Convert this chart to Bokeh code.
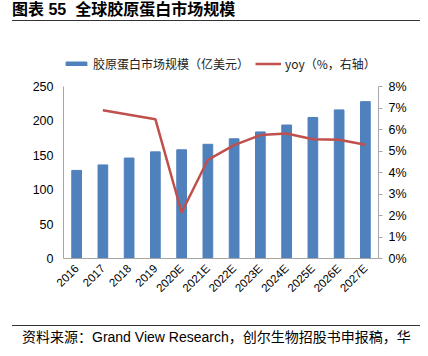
from bokeh.plotting import figure
from bokeh.models import (FactorRange, Range1d, LinearAxis, FixedTicker, NumeralTickFormatter,
                          Legend, LegendItem, ColumnDataSource, Div)
from bokeh.layouts import column
from bokeh.embed import file_html
from bokeh.resources import INLINE
import math

years = ["2016", "2017", "2018", "2019", "2020E", "2021E", "2022E", "2023E",
         "2024E", "2025E", "2026E", "2027E"]
market = [128, 136, 146, 155, 158, 166, 174, 184, 194, 205, 216, 228]
yoy_years = ["2017", "2018", "2019", "2020E", "2021E", "2022E", "2023E",
             "2024E", "2025E", "2026E", "2027E"]
yoy = [0.069, 0.0669, 0.0648, 0.0214, 0.0459, 0.0527, 0.0574, 0.0581, 0.0555, 0.0552, 0.0529]
left_ticks = [0, 50, 100, 150, 200, 250]
right_ticks = [0, 0.01, 0.02, 0.03, 0.04, 0.05, 0.06, 0.07, 0.08]
left_max, right_max = 250, 0.08

title_text = "图表 55&nbsp;&nbsp;全球胶原蛋白市场规模"
bar_name = "胶原蛋白市场规模（亿美元）"
line_name = "yoy（%，右轴）"
source_text = "资料来源：Grand View Research，创尔生物招股书申报稿，华"

W = 420
FIG_H = 296
FL, FR, FT, FB = 63, 378, 30, 236  # frame edges inside the figure
AXIS_TOP = 64                       # where the axes end (local px)
scale = (FB - FT) / (FB - AXIS_TOP)

title_div = Div(
    text=('<div style="margin-left:12px;width:408px;height:21px;border-bottom:1px solid #333;'
          'font-family:\'Liberation Sans\',\'Noto Sans CJK SC\';font-weight:bold;'
          'font-size:16px;line-height:20px;color:#000;white-space:nowrap;">'
          + title_text + '</div>'),
    width=W, height=22, margin=0)

p = figure(width=W, height=FIG_H, x_range=FactorRange(factors=years, range_padding=0),
           y_range=Range1d(0, left_max * scale), output_backend="svg", toolbar_location=None,
           min_border_left=FL, min_border_right=W - FR, min_border_top=FT,
           min_border_bottom=FIG_H - FB, margin=0)
p.extra_y_ranges = {"pct": Range1d(0, right_max * scale)}
p.outline_line_color = None
p.xgrid.visible = False
p.ygrid.visible = False
p.background_fill_color = "white"
p.border_fill_color = "white"

src = ColumnDataSource(dict(x=years, y=market))
bars = p.vbar(x="x", top="y", width=0.37, source=src, fill_color="#4f81bd",
              line_color="#4f81bd")
lsrc = ColumnDataSource(dict(x=yoy_years, y=yoy))
line = p.line(x="x", y="y", source=lsrc, y_range_name="pct", line_color="#c0504d",
              line_width=2.5)

axis_gray = "#a6a6a6"
la = p.yaxis[0]
la.ticker = FixedTicker(ticks=left_ticks)
la.bounds = (0, left_max)
la.major_tick_out = 0
la.major_tick_in = 0
la.minor_tick_out = 0
la.minor_tick_in = 0
la.major_label_standoff = 10
la.axis_line_color = axis_gray
la.major_label_text_font = "Liberation Sans"
la.major_label_text_font_size = "12.5px"
la.major_label_text_color = "#000000"

ra = LinearAxis(y_range_name="pct", ticker=FixedTicker(ticks=right_ticks),
                formatter=NumeralTickFormatter(format="0%"), bounds=(0, right_max))
ra.major_tick_out = 4
ra.major_tick_in = 0
ra.minor_tick_out = 0
ra.minor_tick_in = 0
ra.major_tick_line_color = axis_gray
ra.axis_line_color = axis_gray
ra.major_label_standoff = 6
ra.major_label_text_font = "Liberation Sans"
ra.major_label_text_font_size = "12.5px"
ra.major_label_text_color = "#000000"
p.add_layout(ra, "right")

xa = p.xaxis[0]
xa.major_tick_out = 0
xa.major_tick_in = 0
xa.axis_line_color = axis_gray
xa.major_label_orientation = math.pi / 4
xa.major_label_standoff = 8
xa.major_label_text_font = "Liberation Sans"
xa.major_label_text_font_size = "11.5px"
xa.major_label_text_color = "#000000"

legend = Legend(items=[LegendItem(label=bar_name, renderers=[bars]),
                       LegendItem(label=line_name, renderers=[line])],
                orientation="horizontal", location=(0, FB - 50), padding=0, margin=0,
                spacing=6, glyph_width=26, glyph_height=5, label_standoff=4,
                label_height=14, label_text_font="Noto Sans CJK SC",
                label_text_font_size="12px", label_text_color="#222222",
                border_line_color=None, background_fill_alpha=0)
p.add_layout(legend, "center")

source_div = Div(
    text=('<div style="margin-left:12px;margin-top:7px;width:408px;border-top:1px solid #333;'
          'padding-top:2px;padding-left:10px;box-sizing:border-box;'
          'font-family:\'Liberation Sans\',\'Noto Sans CJK SC\';font-size:14px;'
          'line-height:18px;color:#000;white-space:nowrap;overflow:hidden;">'
          + source_text + '</div>'),
    width=W, height=30, margin=0)

layout = column(title_div, p, source_div, spacing=0)
open("out.html", "w").write(file_html(layout, INLINE))
